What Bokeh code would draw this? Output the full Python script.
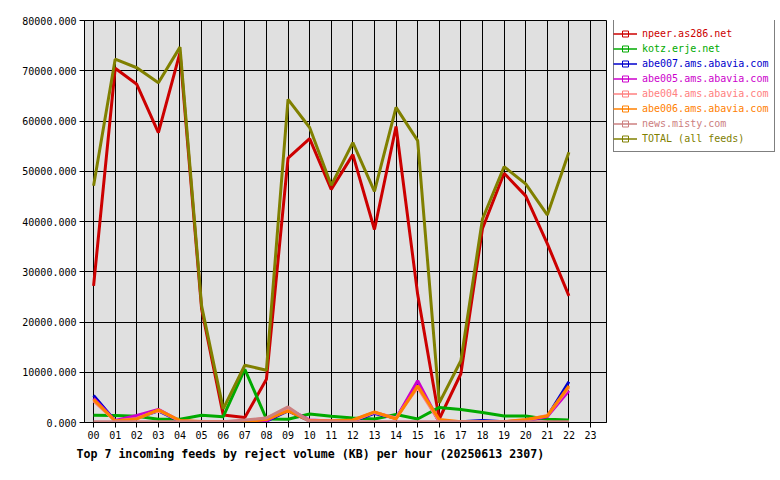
from bokeh.plotting import figure
from bokeh.layouts import row
from bokeh.models import Legend, LegendItem, FixedTicker, PrintfTickFormatter, Range1d
from bokeh.embed import file_html
from bokeh.resources import INLINE

hours = list(range(23))
tick_hours = list(range(24))
tick_labels = ["%02d" % h for h in tick_hours]

feed_names = ["npeer.as286.net", "kotz.erje.net", "abe007.ams.abavia.com",
              "abe005.ams.abavia.com", "abe004.ams.abavia.com", "abe006.ams.abavia.com",
              "news.misty.com", "TOTAL (all feeds)"]
feed_colors = ["#cc0000", "#00aa00", "#0000cc", "#cc00cc", "#ff8080", "#ff8000", "#cc8080", "#808000"]

npeer = [27200, 70500, 67300, 57700, 73600, 22600, 1500, 1000, 8600, 52600, 56500, 46400,
         53300, 38400, 58900, 25500, 700, 9700, 38600, 49600, 45100, 35600, 25200]
kotz = [1450, 1400, 1250, 650, 650, 1450, 1150, 10600, 700, 650, 1700, 1250,
        900, 700, 1600, 700, 3000, 2600, 2000, 1300, 1300, 650, 500]
abe007 = [5400, 300, 900, 2300, 200, 150, 150, 150, 250, 2300, 300, 200,
          300, 1800, 900, 7600, 150, 150, 400, 150, 300, 1200, 8100]
abe005 = [4800, 400, 1400, 2600, 300, 150, 150, 150, 300, 2700, 500, 300,
          400, 2000, 800, 8300, 150, 150, 150, 150, 400, 1200, 6300]
abe004 = [4300, 300, 800, 2400, 300, 150, 150, 300, 900, 2600, 400, 300,
          400, 2000, 900, 7000, 200, 150, 150, 150, 500, 1400, 7000]
abe006 = [4600, 300, 700, 2500, 400, 200, 150, 200, 600, 2300, 300, 300,
          500, 2100, 700, 7300, 600, 150, 150, 150, 600, 1300, 7300]
news = [150, 150, 150, 150, 150, 150, 150, 500, 900, 3100, 150, 150,
        150, 150, 150, 150, 150, 150, 150, 150, 150, 150, 150]
total = [47100, 72300, 70600, 67600, 74700, 23200, 2700, 11400, 10400, 64300, 58700, 47200,
         55700, 46000, 62700, 56100, 3900, 12300, 40500, 50900, 47500, 41300, 53800]

series = [npeer, kotz, abe007, abe005, abe004, abe006, news, total]
y_ticks = list(range(0, 80001, 10000))

MONO = "DejaVu Sans Mono"
H = 472
FRAME_BOTTOM = 422  # frames of the row are aligned: 20 .. 422
NAN = float("nan")

p = figure(width=607, height=H, output_backend="svg", toolbar_location=None,
           x_range=Range1d(-0.42, 23.74), y_range=Range1d(0, 80000),
           min_border_left=84, min_border_right=1, min_border_top=20, min_border_bottom=50)
p.background_fill_color = "#e0e0e0"
p.border_fill_color = "white"
p.outline_line_color = "black"
p.outline_line_width = 1

p.xgrid.ticker = FixedTicker(ticks=tick_hours)
p.ygrid.ticker = FixedTicker(ticks=y_ticks)
for g in (p.xgrid, p.ygrid):
    g.grid_line_color = "black"
    g.grid_line_width = 1
    g.grid_line_alpha = 1

p.xaxis.ticker = FixedTicker(ticks=tick_hours)
p.xaxis.major_label_overrides = {h: lab for h, lab in zip(tick_hours, tick_labels)}
p.yaxis.ticker = FixedTicker(ticks=y_ticks)
p.yaxis.formatter = PrintfTickFormatter(format="%.3f")
for ax in (p.xaxis, p.yaxis):
    ax.axis_line_color = "black"
    ax.major_tick_line_color = "black"
    ax.major_tick_in = 0
    ax.major_tick_out = 5
    ax.minor_tick_line_color = None
    ax.major_label_text_font = MONO
    ax.major_label_text_font_size = "10px"
    ax.major_label_text_color = "black"
    ax.major_label_standoff = 3

p.title.text = "Top 7 incoming feeds by reject volume (KB) per hour (20250613 2307)"
p.title_location = "below"
p.title.text_font = MONO
p.title.text_font_size = "11.6px"
p.title.text_font_style = "bold"
p.title.align = "left"
p.title.offset = -8
p.title.standoff = 6
p.title.text_color = "black"

for vals, col in zip(series, feed_colors):
    p.line(hours, vals, line_color=col, line_width=3)

# legend panel as a separate figure
lf = figure(width=169, height=H, output_backend="svg", toolbar_location=None,
            x_range=Range1d(0, 1), y_range=Range1d(0, 1),
            x_axis_type=None, y_axis_type=None,
            min_border_left=0, min_border_right=0, min_border_top=0, min_border_bottom=0)
lf.grid.visible = False
lf.outline_line_color = None
lf.background_fill_color = "white"
lf.border_fill_color = "white"

# legend-only glyph renderers (no visible data)
leg_lines = []
leg_marks = []
for col in feed_colors:
    leg_lines.append(lf.line([NAN], [NAN], line_color=col, line_width=1.5))
    leg_marks.append(lf.scatter([NAN], [NAN], marker="square", size=3, fill_color=None,
                                line_color=col, line_width=1))
blank = lf.line([NAN], [NAN], line_alpha=0)

BOX_TOP = 18
box = Legend(items=[LegendItem(label=" ", renderers=[blank]) for _ in feed_names],
             location=(6, FRAME_BOTTOM - BOX_TOP - 134), padding=6, spacing=0,
             label_height=15, glyph_height=15,
             glyph_width=23, label_standoff=3, label_width=122,
             label_text_font=MONO, label_text_font_size="10px",
             border_line_color="black", border_line_width=1,
             background_fill_color="white", background_fill_alpha=1)
lf.add_layout(box)

ROW_TOP = 14
for i, (name, col) in enumerate(zip(feed_names, feed_colors)):
    lg = Legend(items=[LegendItem(label=name, renderers=[leg_lines[i], leg_marks[i]])],
                location=(6, FRAME_BOTTOM - ROW_TOP - 15 * i - 27), padding=6, spacing=0,
                label_height=15, glyph_height=15, glyph_width=24, label_standoff=5,
                label_text_font=MONO, label_text_font_size="10px", label_text_color=col,
                border_line_color=None, background_fill_alpha=0)
    lf.add_layout(lg)

layout = row(p, lf, spacing=0)
open("out.html", "w").write(file_html(layout, INLINE))
